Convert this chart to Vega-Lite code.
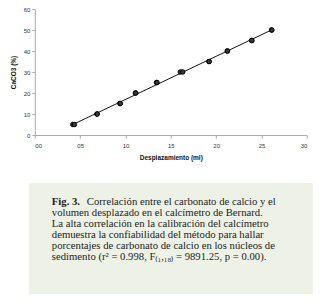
{
  "$schema": "https://vega.github.io/schema/vega-lite/v6.json",
  "padding": {"left": 9.8, "top": 6, "right": 0, "bottom": 0},
  "background": "white",
  "config": {"view": {"stroke": null}},
  "datasets": {
    "pts": [
      {"disp": 4.19, "caco3": 5}, {"disp": 4.37, "caco3": 5},
      {"disp": 6.85, "caco3": 10}, {"disp": 6.89, "caco3": 10},
      {"disp": 9.38, "caco3": 15}, {"disp": 9.44, "caco3": 15},
      {"disp": 11.1, "caco3": 20}, {"disp": 11.14, "caco3": 20},
      {"disp": 13.42, "caco3": 25}, {"disp": 13.48, "caco3": 25},
      {"disp": 16.05, "caco3": 30}, {"disp": 16.32, "caco3": 30},
      {"disp": 19.2, "caco3": 35}, {"disp": 19.24, "caco3": 35},
      {"disp": 21.22, "caco3": 40}, {"disp": 21.26, "caco3": 40},
      {"disp": 23.9, "caco3": 45}, {"disp": 23.96, "caco3": 45},
      {"disp": 26.11, "caco3": 50}, {"disp": 26.15, "caco3": 50}
    ],
    "fit": [
      {"disp": 4.2, "caco3": 5.0},
      {"disp": 26.1, "caco3": 50.0}
    ],
    "caption": [
      {"line": 1, "part": "label", "text": "Fig. 3."},
      {"line": 1, "part": "first", "text": "Correlación entre el carbonato de calcio y el"},
      {"line": 2, "part": "body", "text": "volumen desplazado en el calcímetro de Bernard."},
      {"line": 3, "part": "body", "text": "La alta correlación en la calibración del calcímetro"},
      {"line": 4, "part": "body", "text": "demuestra la confiabilidad del método para hallar"},
      {"line": 5, "part": "body", "text": "porcentajes de carbonato de calcio en los núcleos de"},
      {"line": 6, "part": "body", "text": "sedimento (r² = 0.998, F₍₁,₁₈₎ = 9891.25, p = 0.00)."}
    ]
  },
  "bounds": "flush",
  "center": true,
  "spacing": 48,
  "vconcat": [
    {
      "width": 272,
      "height": 126,
      "encoding": {
        "x": {
          "field": "disp", "type": "quantitative",
          "scale": {"domain": [0, 30], "nice": false},
          "axis": {
            "values": [0, 5, 10, 15, 20, 25, 30], "format": "02d", "grid": false,
            "title": "Desplazamiento (ml)", "titleFont": "Liberation Sans", "titleFontSize": 6.5,
            "titleFontWeight": "bold", "titleColor": "#111", "titlePadding": 7,
            "labelFont": "Liberation Sans", "labelFontSize": 6, "labelColor": "#333", "labelPadding": 4,
            "domainColor": "#aaaaaa", "tickColor": "#aaaaaa", "tickSize": 3
          }
        },
        "y": {
          "field": "caco3", "type": "quantitative",
          "scale": {"domain": [0, 60], "nice": false},
          "axis": {
            "values": [0, 10, 20, 30, 40, 50, 60], "grid": false,
            "title": "CaCO3 (%)", "titleFont": "Liberation Sans", "titleFontSize": 6.5,
            "titleFontWeight": "bold", "titleColor": "#111", "titlePadding": 7,
            "labelFont": "Liberation Sans", "labelFontSize": 6, "labelColor": "#333", "labelPadding": 2,
            "domainColor": "#aaaaaa", "tickColor": "#aaaaaa", "tickSize": 3
          }
        }
      },
      "layer": [
        {"data": {"name": "fit"}, "mark": {"type": "line", "color": "#111", "strokeWidth": 1}},
        {"data": {"name": "pts"}, "mark": {"type": "point", "filled": true, "fill": "#3a3a3a", "stroke": "#000", "strokeWidth": 1, "size": 20, "opacity": 1}}
      ]
    },
    {
      "width": 284,
      "height": 111,
      "view": {"fill": "#eef2e6", "stroke": null},
      "data": {"name": "caption"},
      "encoding": {
        "y": {
          "field": "line", "type": "quantitative",
          "scale": {"domain": [-0.71, 9.29], "reverse": true, "nice": false, "zero": false},
          "axis": null
        },
        "x": {"datum": 0, "type": "quantitative", "scale": {"domain": [0, 1], "padding": 23, "nice": false}, "axis": null},
        "text": {"field": "text"}
      },
      "layer": [
        {"transform": [{"filter": "datum.part == 'label'"}],
         "mark": {"type": "text", "align": "left", "baseline": "middle", "font": "Liberation Serif", "fontSize": 10.7, "fontWeight": "bold", "color": "#222"}},
        {"transform": [{"filter": "datum.part == 'first'"}],
         "mark": {"type": "text", "align": "left", "baseline": "middle", "font": "Liberation Serif", "fontSize": 10.7, "color": "#222", "dx": 35}},
        {"transform": [{"filter": "datum.part == 'body'"}],
         "mark": {"type": "text", "align": "left", "baseline": "middle", "font": "Liberation Serif", "fontSize": 10.7, "color": "#222"}}
      ]
    }
  ]
}
